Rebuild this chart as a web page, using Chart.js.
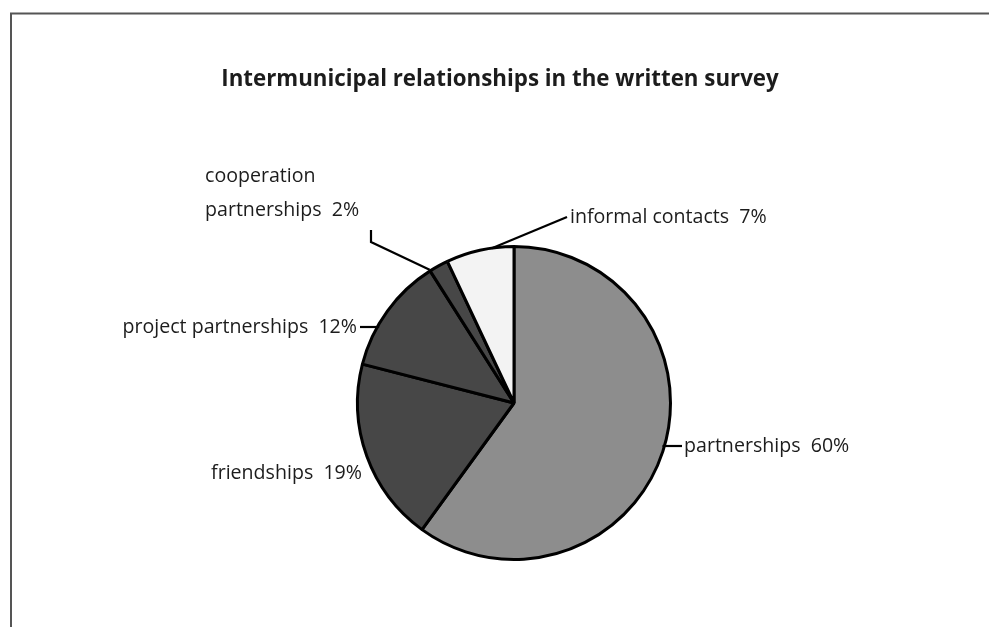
<!DOCTYPE html>
<html><head><meta charset="utf-8">
<script src="https://cdn.jsdelivr.net/npm/chart.js@4"></script>
<style>html,body{margin:0;padding:0;background:#fff}#wrap{position:absolute;left:0;top:0;width:989px;height:627px}</style>
</head><body><div id="wrap"><canvas id="c" width="989" height="627"></canvas></div>
<script>
const titleText = "Intermunicipal relationships in the written survey";
const categories = ["partnerships", "friendships", "project partnerships", "cooperation partnerships", "informal contacts"];
const values = [60, 19, 12, 2, 7];
const colors = ["#8d8d8d", "#474747", "#474747", "#474747", "#f3f3f3"];

const FONT = '"Open Sans", "Noto Sans", sans-serif';
const TEXT = '#1c1c1c';

const decor = {
  id: 'decor',
  beforeDraw(chart) {
    const ctx = chart.ctx;
    ctx.save();
    ctx.fillStyle = '#fff';
    ctx.fillRect(0, 0, chart.width, chart.height);
    ctx.strokeStyle = '#555';
    ctx.lineWidth = 2;
    ctx.strokeRect(11, 13.5, 1000, 700);
    ctx.fillStyle = TEXT;
    ctx.font = 'bold 22.3px ' + FONT;
    ctx.textAlign = 'center';
    ctx.textBaseline = 'middle';
    ctx.fillText(titleText, 500, 80);
    ctx.restore();
  },
  afterDraw(chart) {
    const ctx = chart.ctx;
    const arcs = chart.getDatasetMeta(0).data;
    const cx = arcs[0].x, cy = arcs[0].y, r = arcs[0].outerRadius;
    const mid = i => { const a = (arcs[i].startAngle + arcs[i].endAngle) / 2; return [cx + r * Math.cos(a), cy + r * Math.sin(a)]; };
    const edgeX = (y, side) => cx + side * Math.sqrt(r * r - (y - cy) * (y - cy));
    const pct = i => values[i] + '%';
    ctx.save();
    ctx.strokeStyle = '#000';
    ctx.lineWidth = 2.2;
    ctx.fillStyle = TEXT;
    ctx.font = '19.6px ' + FONT;
    ctx.textBaseline = 'middle';
    ctx.textAlign = 'left';
    // partnerships
    let y = 446;
    ctx.beginPath(); ctx.moveTo(edgeX(y, 1) - 2, y); ctx.lineTo(682, y); ctx.stroke();
    ctx.fillText(categories[0] + '  ' + pct(0), 684, y);
    // friendships
    ctx.textAlign = 'right';
    ctx.fillText(categories[1] + '  ' + pct(1), 362, 473);
    // project partnerships
    y = 327;
    ctx.fillText(categories[2] + '  ' + pct(2), 357, y);
    ctx.beginPath(); ctx.moveTo(360, y); ctx.lineTo(edgeX(y, -1) + 2, y); ctx.stroke();
    // cooperation partnerships
    ctx.textAlign = 'left';
    const parts = categories[3].split(' ');
    ctx.fillText(parts[0], 205, 176);
    ctx.fillText(parts[1] + '  ' + pct(3), 205, 210);
    let m = mid(3);
    ctx.beginPath(); ctx.moveTo(371, 230); ctx.lineTo(371, 242); ctx.lineTo(m[0] - 9, m[1] + 4); ctx.stroke();
    // informal contacts
    ctx.fillText(categories[4] + '  ' + pct(4), 570, 217);
    m = mid(4);
    ctx.beginPath(); ctx.moveTo(567, 217); ctx.lineTo(m[0] + 12, m[1] - 2); ctx.stroke();
    ctx.restore();
  }
};

new Chart(document.getElementById('c'), {
  type: 'pie',
  data: {
    labels: categories,
    datasets: [{ data: values, backgroundColor: colors, borderColor: '#000', borderWidth: 3, borderAlign: 'center' }]
  },
  options: {
    responsive: false,
    animation: false,
    events: [],
    layout: { padding: { top: 245, bottom: 66, left: 356, right: 317 } },
    plugins: { legend: { display: false }, title: { display: false }, tooltip: { enabled: false } }
  },
  plugins: [decor]
});
</script></body></html>
